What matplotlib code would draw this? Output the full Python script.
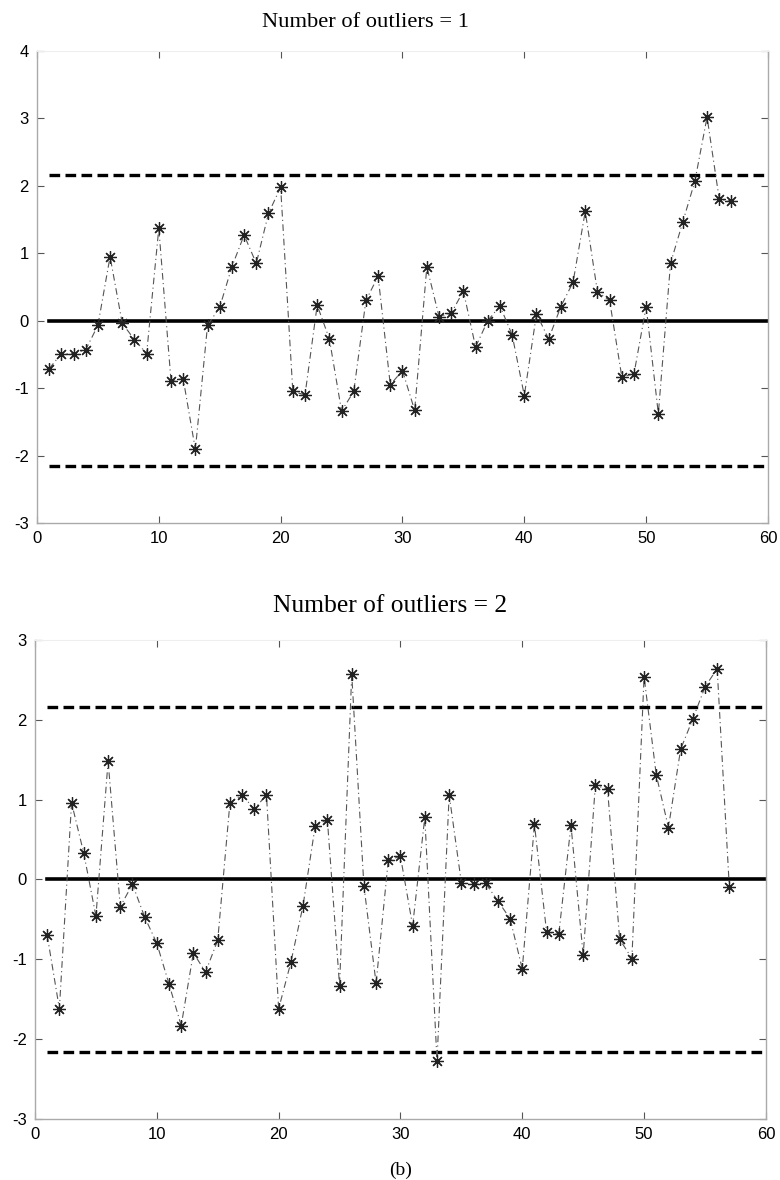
import matplotlib
matplotlib.use("Agg")
import matplotlib.pyplot as plt
import numpy as np

plt.rcParams["axes.unicode_minus"] = False

titles = ["Number of outliers = 1", "Number of outliers = 2"]
caption = "(b)"

obs_top = list(range(1, 58))
vals_top = [-0.71, -0.49, -0.49, -0.43, -0.07, 0.95, -0.04, -0.28, -0.49, 1.37,
            -0.89, -0.86, -1.91, -0.07, 0.20, 0.80, 1.27, 0.85, 1.59, 1.98,
            -1.05, -1.10, 0.23, -0.27, -1.34, -1.05, 0.30, 0.66, -0.95, -0.74,
            -1.33, 0.80, 0.06, 0.11, 0.44, -0.39, 0.0, 0.22, -0.21, -1.11,
            0.10, -0.27, 0.21, 0.57, 1.62, 0.43, 0.30, -0.83, -0.79, 0.21,
            -1.38, 0.85, 1.46, 2.07, 3.02, 1.80, 1.77]

obs_bot = list(range(1, 58))
vals_bot = [-0.70, -1.62, 0.96, 0.33, -0.46, 1.48, -0.34, -0.06, -0.47, -0.80,
            -1.31, -1.83, -0.92, -1.16, -0.76, 0.96, 1.06, 0.88, 1.06, -1.62,
            -1.04, -0.33, 0.67, 0.75, -1.33, 2.57, -0.08, -1.30, 0.24, 0.29,
            -0.58, 0.78, -2.27, 1.06, -0.04, -0.06, -0.05, -0.27, -0.49, -1.12,
            0.69, -0.66, -0.68, 0.68, -0.95, 1.18, 1.13, -0.75, -0.99, 2.54,
            1.31, 0.65, 1.63, 2.01, 2.41, 2.64, -0.10]

limit = 2.16
ylims = [(-3, 4), (-3, 3)]
xticks = [0, 10, 20, 30, 40, 50, 60]

fig = plt.figure(figsize=(7.8, 11.8), dpi=100)
axes = [fig.add_axes([0.0474, 0.5568, 0.9372, 0.400]),
        fig.add_axes([0.0449, 0.0517, 0.9370, 0.406])]

data = [(obs_top, vals_top), (obs_bot, vals_bot)]
title_pos = [(0.469, 0.981), (0.500, 0.4864)]
title_sizes = [16.2, 18.4]
for ax, (x, y), t, yl, tp, ts in zip(axes, data, titles, ylims, title_pos, title_sizes):
    ax.plot([1, 60], [0, 0], color="black", lw=2.6, zorder=2)
    ax.plot([1, 60], [limit, limit], color="black", lw=2.4, ls=(0, (3.2, 1.6)), zorder=2)
    ax.plot([1, 60], [-limit, -limit], color="black", lw=2.4, ls=(0, (3.2, 1.6)), zorder=2)
    ax.plot(x, y, color="#555555", lw=0.8, ls=(0, (6, 3, 1, 3)), zorder=3)
    ax.plot(x, y, ls="none", marker=(8, 2, 0), markersize=9, mew=0.9,
            color="#222222", zorder=4)
    ax.set_xlim(0, 60)
    ax.set_ylim(*yl)
    ax.set_xticks(xticks)
    ax.set_yticks(range(yl[0], yl[1] + 1))
    ax.tick_params(direction="in", length=5, width=0.8, color="#555555",
                   top=True, right=True, labelsize=12, pad=6)
    for lab in ax.get_xticklabels() + ax.get_yticklabels():
        lab.set_fontfamily("Liberation Sans")
    for s in ["left", "bottom", "right"]:
        ax.spines[s].set_color("#aaaaaa")
        ax.spines[s].set_linewidth(1.0)
    ax.spines["top"].set_color("#eeeeee")
    fig.text(tp[0], tp[1], t, ha="center", va="center",
             fontfamily="Liberation Serif", fontsize=ts)

fig.text(0.514, 0.0085, caption, ha="center", va="center",
         fontfamily="Liberation Serif", fontsize=14)

fig.savefig("out.png", dpi=100)
